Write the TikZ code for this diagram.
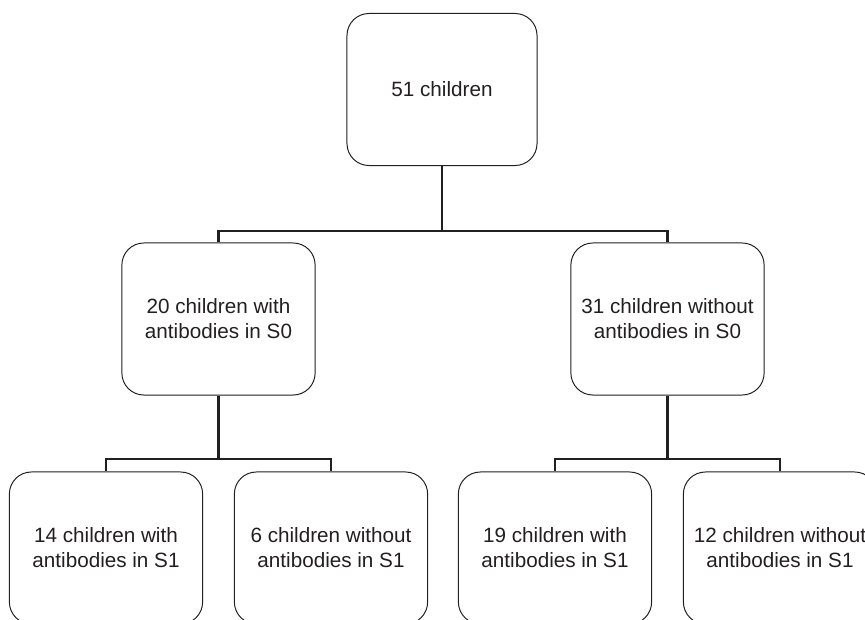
\documentclass[tikz,border=0pt]{standalone}
\usepackage{fontspec}
\setmainfont{Liberation Sans}
\definecolor{ink}{HTML}{231F20}
\tikzset{
    box/.style={draw=ink, line width=0.7pt, rounded corners=0.55cm,
        minimum width=4.83cm, minimum height=3.8cm, align=center,
        text=ink, font=\fontsize{14.7pt}{17.8pt}\selectfont},
    link/.style={draw=ink, line width=1.9pt}
}
\begin{document}
\begin{tikzpicture}[x=0.025cm, y=-0.025cm]
    \clip (0,0) rectangle (865,619);

    % Top level
    \node[box, minimum width=4.75cm] (all) at (442, 89.5) {51 children};

    % S0
    \node[box] (with0) at (218.5, 319) {20 children with\\antibodies in S0};
    \node[box] (without0) at (667.5, 319) {31 children without\\antibodies in S0};

    % S1
    \node[box] (with1a) at (106, 548) {14 children with\\antibodies in S1};
    \node[box] (without1a) at (331, 548) {6 children without\\antibodies in S1};
    \node[box] (with1b) at (555, 548) {19 children with\\antibodies in S1};
    \node[box] (without1b) at (780, 548) {12 children without\\antibodies in S1};

    % Branch points
    \coordinate (split0) at (442, 231);
    \coordinate (splitA) at (218.5, 459);
    \coordinate (splitB) at (667.5, 459);

    \draw[link] (all.south) -- (split0);
    \draw[link] (with0.north) -- (with0.north |- split0) -- (without0.north |- split0) -- (without0.north);

    \draw[link] (with0.south) -- (splitA);
    \draw[link] (with1a.north) -- (with1a.north |- splitA) -- (without1a.north |- splitA) -- (without1a.north);

    \draw[link] (without0.south) -- (splitB);
    \draw[link] (with1b.north) -- (with1b.north |- splitB) -- (without1b.north |- splitB) -- (without1b.north);
\end{tikzpicture}
\end{document}
